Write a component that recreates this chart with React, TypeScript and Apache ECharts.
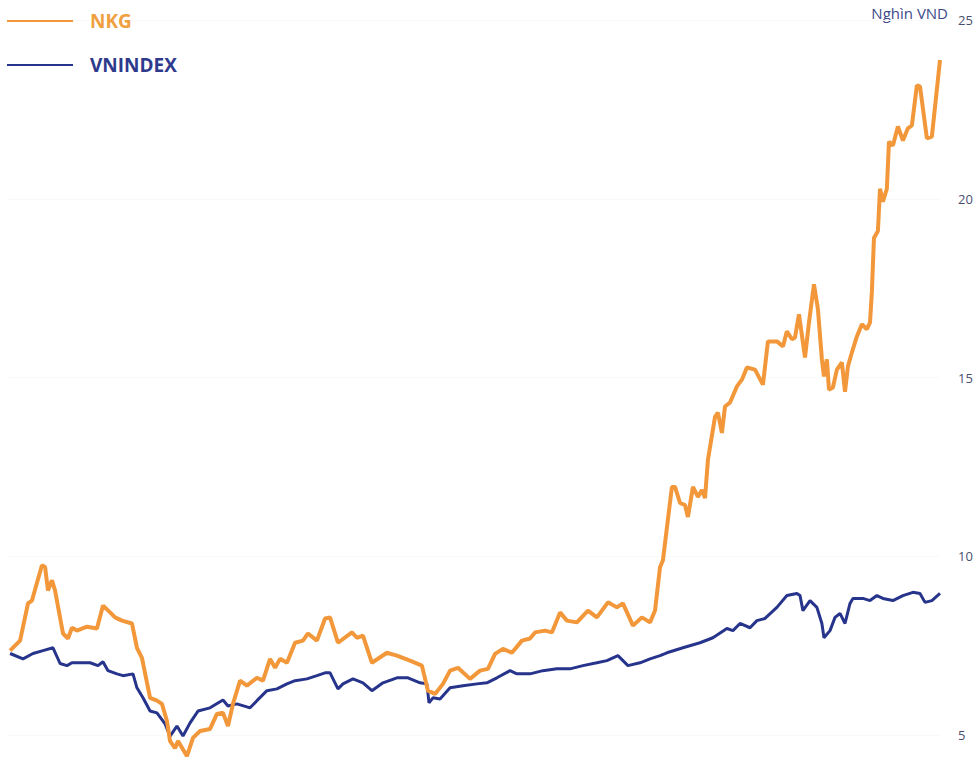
import React, { useEffect, useRef } from "react";
import * as echarts from "echarts";

// Day offsets (calendar days from the start of the period) and prices (thousand VND)
const nkgDays = [1.0, 5.8, 9.6, 11.5, 16.3, 17.8, 19.2, 21.1, 22.6, 26.4, 28.8, 30.7, 33.1, 37.9, 42.7, 45.6, 49.0, 51.4, 54.7, 59.5, 61.9, 64.3, 68.2, 71.5, 73.9, 76.3, 77.8, 80.2, 81.6, 85.9, 88.8, 92.2, 97.0, 100.3, 103.2, 105.6, 108.0, 111.4, 114.7, 119.5, 122.4, 125.8, 128.2, 130.6, 133.9, 137.8, 141.6, 144.0, 148.3, 152.2, 154.6, 158.4, 165.1, 167.5, 170.4, 174.7, 181.9, 186.7, 193.0, 198.7, 201.6, 205.0, 208.8, 212.2, 216.0, 221.8, 226.6, 230.4, 233.8, 237.6, 241.9, 246.7, 250.6, 253.0, 257.8, 261.1, 265.0, 268.3, 273.1, 278.4, 282.7, 288.0, 292.3, 295.2, 300.0, 304.3, 308.2, 310.6, 313.0, 314.4, 318.7, 320.2, 322.6, 325.0, 326.4, 328.8, 331.2, 333.1, 334.6, 336.0, 339.4, 340.8, 342.7, 344.2, 346.6, 349.9, 352.3, 354.7, 358.6, 362.4, 364.8, 369.1, 372.0, 373.9, 376.3, 377.8, 379.7, 382.6, 384.5, 386.9, 388.8, 390.7, 391.7, 393.1, 394.1, 396.0, 397.9, 400.3, 401.8, 403.2, 405.1, 407.5, 409.9, 412.3, 413.8, 414.7, 415.7, 417.6, 418.6, 420.0, 421.9, 422.9, 424.8, 427.2, 429.6, 432.0, 433.9, 436.3, 437.8, 441.1, 443.5, 447.4];
const nkgValues = [7.36, 7.64, 8.68, 8.76, 9.75, 9.7, 9.04, 9.33, 9.04, 7.84, 7.7, 8.0, 7.92, 8.03, 7.98, 8.62, 8.43, 8.29, 8.2, 8.12, 7.44, 7.16, 6.04, 5.96, 5.87, 5.39, 4.83, 4.63, 4.83, 4.41, 4.92, 5.11, 5.17, 5.59, 5.62, 5.25, 5.87, 6.52, 6.38, 6.6, 6.52, 7.13, 6.88, 7.13, 7.02, 7.58, 7.64, 7.84, 7.64, 8.26, 8.29, 7.58, 7.87, 7.72, 7.78, 7.02, 7.3, 7.22, 7.08, 6.94, 6.24, 6.15, 6.43, 6.8, 6.88, 6.57, 6.8, 6.85, 7.27, 7.41, 7.3, 7.64, 7.7, 7.87, 7.92, 7.87, 8.43, 8.2, 8.15, 8.48, 8.29, 8.71, 8.57, 8.68, 8.06, 8.29, 8.15, 8.48, 9.69, 9.89, 11.94, 11.94, 11.49, 11.43, 11.1, 11.94, 11.66, 11.85, 11.63, 12.7, 13.9, 14.02, 13.45, 14.19, 14.3, 14.75, 14.94, 15.28, 15.22, 14.8, 16.01, 16.01, 15.87, 16.29, 16.07, 16.12, 16.77, 15.56, 16.54, 17.61, 16.91, 15.51, 15.03, 15.51, 14.66, 14.72, 15.22, 15.42, 14.6, 15.31, 15.7, 16.15, 16.49, 16.35, 16.54, 17.4, 18.9, 19.1, 20.28, 19.92, 20.28, 21.6, 21.49, 22.02, 21.63, 21.97, 22.05, 23.17, 23.14, 21.69, 21.74, 23.88];

// VNINDEX rebased to the NKG starting price
const vniDays = [1.0, 7.2, 12.0, 16.8, 21.6, 25.0, 28.3, 30.7, 34.6, 39.4, 43.2, 45.6, 48.0, 52.3, 55.2, 60.0, 61.9, 64.8, 68.2, 71.5, 75.4, 77.8, 81.1, 84.0, 87.4, 91.2, 97.0, 103.2, 105.6, 109.9, 116.2, 119.5, 124.3, 129.1, 133.9, 137.8, 143.5, 148.3, 152.2, 154.6, 158.4, 160.8, 165.6, 170.4, 174.7, 180.0, 186.7, 192.0, 197.8, 201.1, 202.1, 204.0, 207.4, 212.2, 218.4, 225.1, 229.9, 234.7, 241.0, 244.3, 250.6, 256.8, 263.5, 269.8, 276.0, 282.7, 287.5, 292.8, 297.6, 303.4, 308.2, 313.0, 316.3, 324.0, 332.2, 338.4, 345.1, 348.0, 351.4, 356.2, 359.5, 363.4, 369.1, 373.9, 378.7, 380.2, 381.6, 385.0, 388.3, 390.7, 391.7, 394.6, 397.0, 399.4, 401.8, 404.2, 405.6, 410.4, 413.8, 417.1, 420.0, 424.8, 429.6, 434.4, 437.8, 440.2, 443.5, 447.4];
const vniValues = [7.28, 7.13, 7.28, 7.36, 7.44, 7.0, 6.94, 7.02, 7.02, 7.02, 6.94, 7.05, 6.8, 6.71, 6.66, 6.71, 6.32, 6.04, 5.67, 5.62, 5.31, 4.97, 5.25, 4.97, 5.34, 5.67, 5.76, 5.98, 5.81, 5.87, 5.76, 5.96, 6.24, 6.29, 6.43, 6.52, 6.57, 6.66, 6.74, 6.74, 6.29, 6.43, 6.57, 6.46, 6.24, 6.46, 6.6, 6.6, 6.46, 6.43, 5.9, 6.04, 6.01, 6.32, 6.38, 6.43, 6.46, 6.6, 6.8, 6.71, 6.71, 6.8, 6.85, 6.85, 6.94, 7.02, 7.08, 7.22, 6.94, 7.02, 7.13, 7.22, 7.3, 7.44, 7.58, 7.72, 7.98, 7.92, 8.12, 8.0, 8.2, 8.26, 8.57, 8.9, 8.96, 8.9, 8.48, 8.76, 8.57, 8.12, 7.72, 7.92, 8.29, 8.4, 8.12, 8.68, 8.82, 8.82, 8.76, 8.9, 8.82, 8.76, 8.9, 8.99, 8.96, 8.71, 8.76, 8.96];

const yTicks = [5, 10, 15, 20, 25];
const seriesNames = ["NKG", "VNINDEX"];
const unitLabel = "Nghìn VND";

const ORANGE = "#F2973A";
const BLUE = "#27348B";

export default function App() {
  const ref = useRef<HTMLDivElement>(null);

  useEffect(() => {
    if (!ref.current) return;
    const chart = echarts.init(ref.current, null, { renderer: "svg" });
    const nkg = nkgDays.map((d, i) => [d, nkgValues[i]]);
    const vni = vniDays.map((d, i) => [d, vniValues[i]]);
    const legendText = (color: string) => ({
      color,
      fontSize: 19,
      fontWeight: "bold" as const,
      fontFamily: "Open Sans",
      lineHeight: 24,
      padding: [0, 0, 0, 12],
    });
    chart.setOption({
      animation: false,
      backgroundColor: "#ffffff",
      grid: { left: 8, right: 40, top: 20, bottom: 22, containLabel: false },
      legend: [
        {
          data: [{ name: seriesNames[0], textStyle: legendText("#F0A040") }],
          left: 7,
          top: 9,
          padding: 0,
          icon: "rect",
          itemWidth: 66,
          itemHeight: 2,
          selectedMode: false,
        },
        {
          data: [{ name: seriesNames[1], textStyle: legendText("#2E3A8C") }],
          left: 7,
          top: 53,
          padding: 0,
          icon: "rect",
          itemWidth: 66,
          itemHeight: 2,
          selectedMode: false,
        },
      ],
      xAxis: {
        type: "value",
        min: 0,
        max: nkgDays[nkgDays.length - 1],
        show: false,
        splitLine: { show: false },
      },
      yAxis: {
        type: "value",
        position: "right",
        min: yTicks[0],
        max: yTicks[yTicks.length - 1],
        interval: 5,
        axisLine: { show: false },
        axisTick: { show: false },
        axisLabel: {
          margin: 18,
          color: "#4A4F70",
          fontSize: 13,
          fontFamily: "Open Sans",
        },
        splitLine: { show: true, lineStyle: { color: "#F9F9F9", width: 1 } },
      },
      graphic: [
        {
          type: "text",
          right: 32,
          top: 5,
          style: {
            text: unitLabel,
            fill: "#3D4A8A",
            fontSize: 15,
            fontFamily: "Open Sans",
          },
        },
      ],
      series: [
        {
          name: seriesNames[1],
          type: "line",
          data: vni,
          showSymbol: false,
          symbol: "none",
          clip: false,
          lineStyle: { color: BLUE, width: 3 },
          itemStyle: { color: BLUE },
          z: 2,
        },
        {
          name: seriesNames[0],
          type: "line",
          data: nkg,
          showSymbol: false,
          symbol: "none",
          clip: false,
          lineStyle: { color: ORANGE, width: 4 },
          itemStyle: { color: ORANGE },
          z: 3,
        },
      ],
    });
    return () => chart.dispose();
  }, []);

  return (
    <div
      ref={ref}
      style={{ position: "fixed", left: 0, top: 0, width: 980, height: 757 }}
    />
  );
}
